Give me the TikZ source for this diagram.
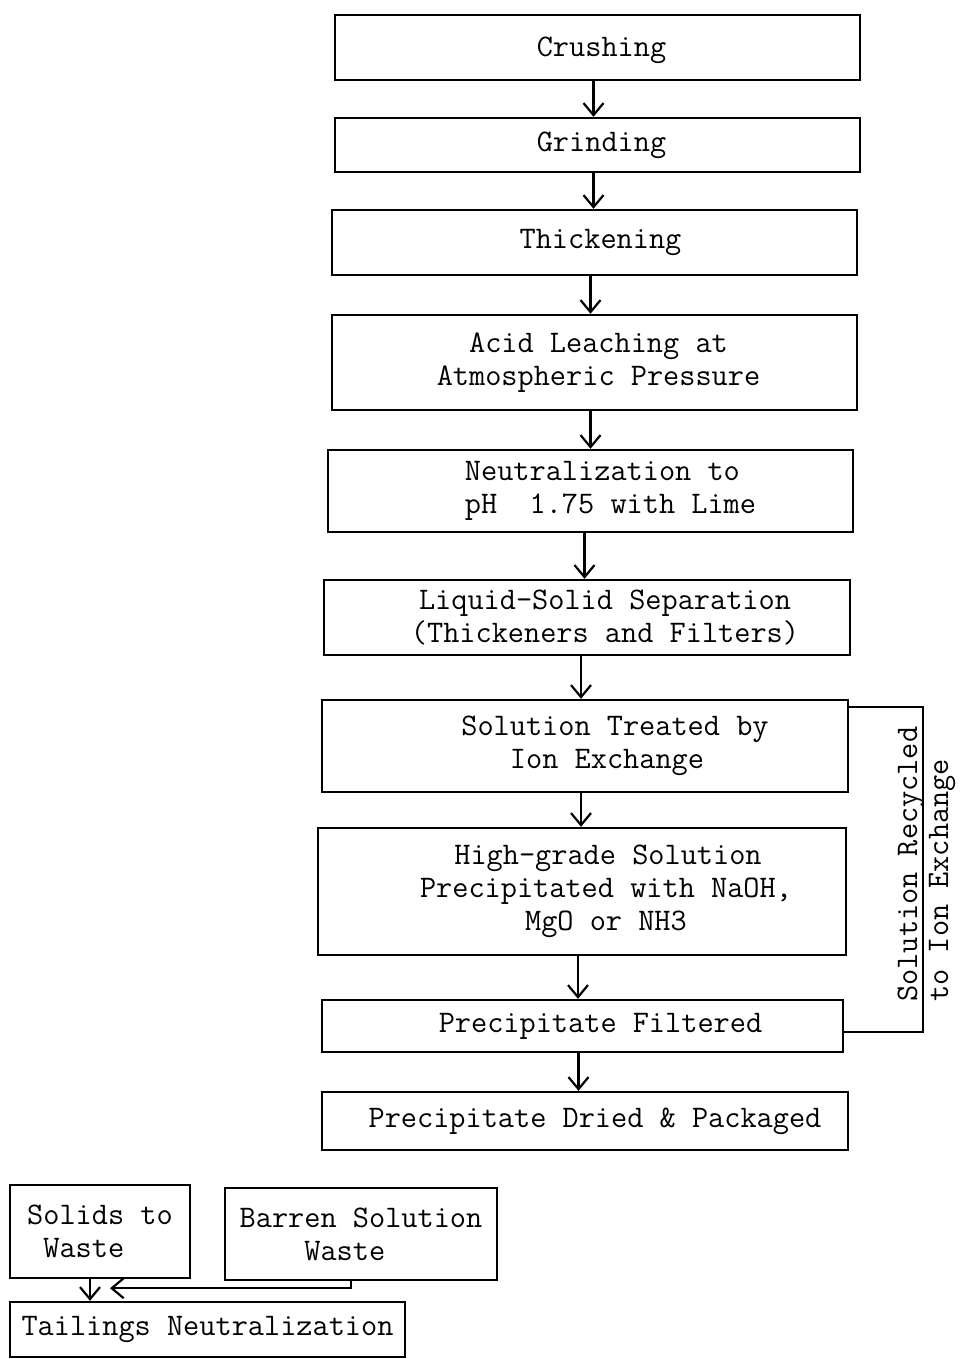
\documentclass[tikz,border=0pt]{standalone}
\usetikzlibrary{arrows.meta,calc}
\begin{document}
\begin{tikzpicture}[x=0.5pt,y=-0.5pt,
  every node/.style={font=\ttfamily\fontsize{15.7}{16.5}\selectfont},
  box/.style={draw,line width=1.2pt,inner sep=0pt,align=center},
  flow/.style={line width=1.1pt,-{Straight Barb[length=6pt,width=10pt,line width=1.1pt]}},
  link/.style={line width=1.1pt}]
\useasboundingbox (0,0) rectangle (959,1359);

% main process chain
\node[box,minimum width=262.5pt,minimum height=32.5pt,text depth=1pt] (b1) at (597.5,47.5) {\hspace*{4pt}Crushing};
\node[box,minimum width=262.5pt,minimum height=27pt] (b2) at (597.5,145) {\hspace*{4pt}Grinding};
\node[box,minimum width=262.5pt,minimum height=32.5pt] (b3) at (594.5,242.5) {\hspace*{6pt}Thickening};
\node[box,minimum width=262.5pt,minimum height=47.5pt] (b4) at (594.5,362.5) {\hspace*{4pt}Acid Leaching at\\\hspace*{4pt}Atmospheric Pressure};
\node[box,minimum width=262.5pt,minimum height=41pt,align=left] (b5) at (590.5,491) {\hspace*{20pt}Neutralization to\\\hspace*{20pt}pH\ \ 1.75 with Lime};
\node[box,minimum width=263pt,minimum height=37.5pt] (b6) at (587,617.5) {\hspace*{18pt}Liquid-Solid Separation\\\hspace*{18pt}(Thickeners and Filters)};
\node[box,minimum width=263pt,minimum height=46pt] (b7) at (585,746) {\hspace*{30pt}Solution Treated by\\\hspace*{22pt}Ion Exchange};
\node[box,minimum width=264pt,minimum height=63.5pt] (b8) at (582,891.5) {\hspace*{26pt}High-grade Solution\\\hspace*{24pt}Precipitated with NaOH,\\\hspace*{24pt}MgO or NH3};
\node[box,minimum width=260.5pt,minimum height=26pt] (b9) at (582.5,1026) {\hspace*{18pt}Precipitate Filtered};
\node[box,minimum width=263pt,minimum height=29pt] (b10) at (585,1121) {\hspace*{10pt}Precipitate Dried \& Packaged};

% waste handling
\node[box,minimum width=90pt,minimum height=46.5pt,align=left] (s) at (100,1231.5) {Solids to\\\ Waste};
\node[box,minimum width=136pt,minimum height=46pt,align=left] (w) at (361,1234) {Barren Solution\\\ \ \ \ Waste};
\node[box,minimum width=197.5pt,minimum height=27.5pt] (t) at (207.5,1329.5) {Tailings Neutralization};

% forward flow
\draw[flow] ([xshift=-2pt]b1.south) -- ([xshift=-2pt]b1.south |- b2.north);
\draw[flow] ([xshift=-2pt]b2.south) -- ([xshift=-2pt]b2.south |- b3.north);
\draw[flow] ([xshift=-2pt]b3.south) -- ([xshift=-2pt]b3.south |- b4.north);
\draw[flow] ([xshift=-2pt]b4.south) -- ([xshift=-2pt]b4.south |- b5.north);
\draw[flow] ([xshift=-3pt]b5.south) -- ([xshift=-3pt]b5.south |- b6.north);
\draw[flow] ([xshift=-3pt]b6.south) -- ([xshift=-3pt]b6.south |- b7.north);
\draw[flow] ([xshift=-2pt]b7.south) -- ([xshift=-2pt]b7.south |- b8.north);
\draw[flow] ([xshift=-2pt]b8.south) -- ([xshift=-2pt]b8.south |- b9.north);
\draw[flow] ([xshift=-2pt]b9.south) -- ([xshift=-2pt]b9.south |- b10.north);

% recycle loop back to ion exchange
\coordinate (r1) at ($(b7.north east)+(0,8)$);
\coordinate (r2) at ($(b9.east)+(0,6)$);
\draw[link] (r1) -- ++(74,0) |- (r2);
\node[rotate=90,anchor=west,inner sep=0pt] (lab1) at (911,1002) {Solution Recycled};
\node[rotate=90,anchor=west,inner sep=0pt] (lab2) at (942,1002) {to Ion Exchange};

% waste streams into tailings neutralization
\draw[flow] ([xshift=-5pt]s.south) -- ([xshift=-5pt]s.south |- t.north);
\coordinate (bt) at ($(s.south)+(10,9)$);
\draw[flow] ([xshift=-5pt]w.south) |- (bt);
\end{tikzpicture}
\end{document}
